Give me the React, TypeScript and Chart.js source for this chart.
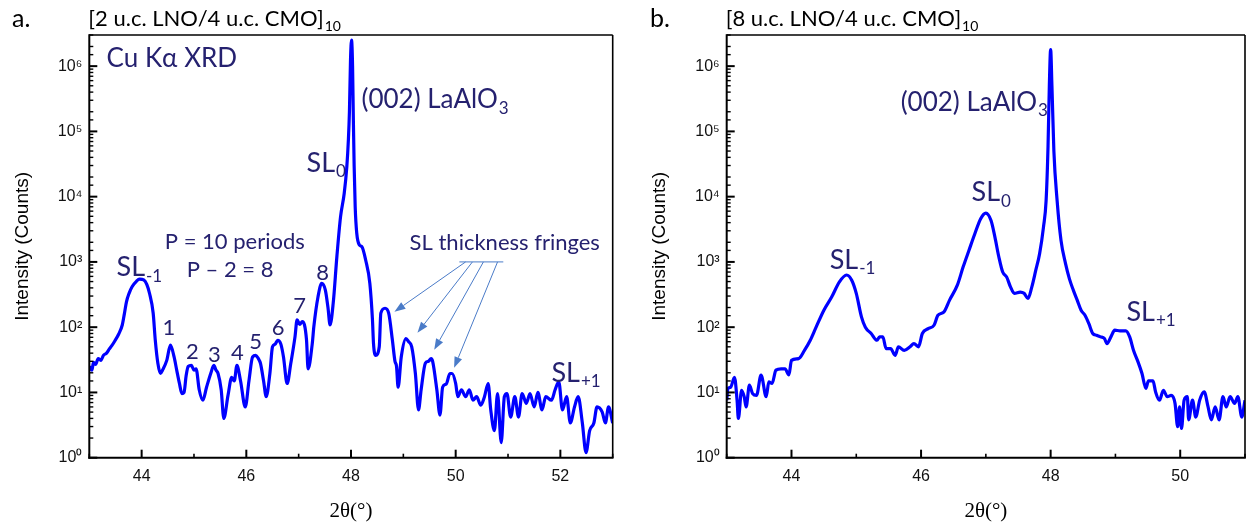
import React, { useEffect, useRef } from "react";
import { Chart, registerables } from "chart.js";

Chart.register(...registerables);

// ---------- Panel a: [2 u.c. LNO/4 u.c. CMO]10 ----------
const thetaA = [
  43.0, 43.05, 43.08, 43.12, 43.17, 43.22, 43.27, 43.33, 43.38, 43.43, 43.49, 43.56, 43.63, 43.67, 43.71,
  43.76, 43.82, 43.9, 43.96, 44.04, 44.1, 44.15, 44.22, 44.26, 44.31, 44.36, 44.4, 44.48, 44.55, 44.62,
  44.67, 44.72, 44.77, 44.81, 44.85, 44.89, 44.95, 45.0, 45.04, 45.1, 45.17, 45.24, 45.32, 45.38, 45.42,
  45.46, 45.52, 45.57, 45.65, 45.72, 45.77, 45.82, 45.89, 45.98, 46.05, 46.12, 46.18, 46.23, 46.27, 46.33,
  46.38, 46.45, 46.5, 46.55, 46.6, 46.66, 46.71, 46.78, 46.85, 46.93, 46.97, 47.02, 47.07, 47.15, 47.18,
  47.26, 47.29, 47.37, 47.44, 47.51, 47.56, 47.6, 47.66, 47.73, 47.8, 47.87, 47.92, 47.95, 47.97, 47.99,
  48.01, 48.03, 48.045, 48.06, 48.08, 48.11, 48.16, 48.21, 48.28, 48.36, 48.41, 48.43, 48.47, 48.54, 48.57,
  48.65, 48.72, 48.79, 48.84, 48.87, 48.9, 48.96, 49.05, 49.1, 49.16, 49.23, 49.29, 49.34, 49.42, 49.48,
  49.53, 49.56, 49.64, 49.7, 49.75, 49.82, 49.89, 49.93, 50.0, 50.04, 50.11, 50.19, 50.26, 50.33, 50.4,
  50.48, 50.55, 50.62, 50.67, 50.74, 50.8, 50.87, 50.93, 50.98, 51.05, 51.13, 51.2, 51.27, 51.35, 51.42,
  51.5, 51.57, 51.65, 51.72, 51.83, 51.9, 51.97, 52.04, 52.12, 52.19, 52.27, 52.34, 52.42, 52.49, 52.56,
  52.64, 52.7, 52.8, 52.86, 52.92, 53.0,
];
const countsA = [
  25, 22, 29, 27, 33, 31, 37, 40, 46, 52, 62, 78, 108, 160, 245,
  330, 420, 505, 545, 530, 450, 331, 165, 64, 28, 19.5, 22, 31, 53, 35,
  22, 14, 9.6, 10, 18, 25, 26, 22, 23, 11, 7.6, 12, 19.5, 26, 22,
  19.5, 11, 4, 9, 17, 15, 26, 15, 6, 15, 35, 37, 33, 28, 15,
  8.6, 19.5, 50, 55, 63, 55, 35, 13.7, 28, 71, 130, 110, 122, 64, 23,
  56, 102, 293, 470, 370, 200, 108, 233, 1200, 4900, 11200, 28600, 74000, 200000, 1200000,
  2500000, 1000000, 150000, 30000, 7000, 2750, 1820, 1700, 1070, 470, 130, 56, 37, 50, 164,
  195, 164, 64, 30, 25, 12, 35, 67, 60, 50, 19.5, 5.4, 11, 28, 30,
  33, 30, 11, 4.5, 12, 13.5, 19.5, 19.5, 13.7, 8.6, 11, 8.6, 11, 7.6, 8.6,
  6.4, 8.6, 13.7, 5.4, 2.6, 9.6, 1.7, 8.6, 9.6, 4.2, 8.6, 4.2, 9.6, 6.8, 9.6,
  6, 10, 5.4, 8.6, 7.6, 11, 14.5, 5.4, 8.6, 3.4, 6, 8.6, 3.4, 1.2, 2.6,
  3.4, 6, 5, 3.4, 6, 3.4,
];

// ---------- Panel b: [8 u.c. LNO/4 u.c. CMO]10 ----------
const thetaB = [
  43.0, 43.02, 43.06, 43.12, 43.16, 43.18, 43.23, 43.27, 43.3, 43.35, 43.4, 43.46, 43.53, 43.61, 43.65,
  43.7, 43.76, 43.84, 43.9, 43.96, 44.0, 44.11, 44.2, 44.29, 44.38, 44.5, 44.62, 44.74, 44.85, 44.93,
  45.0, 45.08, 45.14, 45.23, 45.32, 45.36, 45.41, 45.46, 45.53, 45.6, 45.65, 45.74, 45.83, 45.89, 45.96,
  46.02, 46.11, 46.2, 46.26, 46.35, 46.44, 46.56, 46.65, 46.74, 46.83, 46.92, 47.0, 47.08, 47.14, 47.2,
  47.26, 47.32, 47.38, 47.44, 47.53, 47.59, 47.65, 47.71, 47.77, 47.83, 47.89, 47.93, 47.96, 47.98, 48.0,
  48.02, 48.05, 48.1, 48.16, 48.23, 48.29, 48.35, 48.41, 48.47, 48.53, 48.59, 48.65, 48.71, 48.77, 48.83,
  48.87, 48.93, 48.99, 49.07, 49.16, 49.22, 49.28, 49.34, 49.41, 49.47, 49.51, 49.58, 49.62, 49.68, 49.74,
  49.8, 49.86, 49.92, 49.96, 49.99, 50.02, 50.06, 50.11, 50.13, 50.19, 50.24, 50.3, 50.37, 50.43, 50.48,
  50.54, 50.6, 50.66, 50.71, 50.77, 50.84, 50.89, 50.95, 51.0,
];
const countsB = [
  7.6, 11.5, 12, 17, 7.6, 4, 10.8, 8.6, 6, 12.9, 9.6, 9, 18.5, 8.6, 14.5,
  13.7, 22, 23, 23, 18.5, 31, 33, 44, 63, 100, 182, 290, 495, 630, 525,
  330, 144, 100, 80, 63, 71, 71, 47, 47, 37, 50, 44, 50, 56, 50,
  80, 95, 107, 152, 170, 260, 440, 840, 1510, 2700, 4600, 5600, 4300, 2400, 1200,
  700, 590, 415, 330, 345, 330, 275, 415, 740, 1340, 3450, 8700, 60000, 500000, 1800000,
  500000, 50000, 8700, 2140, 940, 550, 370, 260, 182, 152, 113, 80, 75, 71, 67,
  56, 71, 90, 88, 88, 71, 44, 31, 19.5, 11.5, 15, 15, 10.2, 7.6, 10.8,
  8.6, 9, 6.8, 3, 6, 2.8, 7.6, 8.6, 3.8, 7.6, 4.2, 7.6, 10.2, 6, 3.8,
  6, 3.8, 8.6, 6, 8.6, 6.8, 8.6, 4.2, 7.6,
];

// ---------- Axes ----------
const xTicksA = [44, 46, 48, 50, 52];
const xTicksB = [44, 46, 48, 50];
const superscripts = ["⁰", "¹", "²", "³", "⁴", "⁵", "⁶"];
const xTitle = "2θ(°)";
const yTitle = "Intensity (Counts)";

// ---------- Text labels (anchored in data coordinates) ----------
type Ann = { text: string; sub?: string; x: number; y: number; size: number; align?: "left" | "center" };

const annotationsA: Ann[] = [
  { text: "Cu Kα XRD", x: 43.33, y: 1.3e6, size: 26 },
  { text: "(002) LaAlO", sub: "3", x: 48.2, y: 3.06e5, size: 26 },
  { text: "SL", sub: "0", x: 47.15, y: 3.3e4, size: 27 },
  { text: "P = 10 periods", x: 45.78, y: 2040, size: 22, align: "center" },
  { text: "P – 2 = 8", x: 45.69, y: 754, size: 22, align: "center" },
  { text: "SL", sub: "-1", x: 43.52, y: 814, size: 27 },
  { text: "SL thickness fringes", x: 49.12, y: 1950, size: 22 },
  { text: "SL", sub: "+1", x: 51.83, y: 19.9, size: 27 },
];
const fringeLabels = ["1", "2", "3", "4", "5", "6", "7", "8"];
const fringeTheta = [44.52, 44.97, 45.39, 45.83, 46.18, 46.61, 47.02, 47.46];
const fringeCounts = [97, 42, 37.7, 40, 60, 97, 212, 680];

const arrowBarTheta = [50.07, 50.91];
const arrowBarCounts = 1000;
const arrowFromTheta = [50.19, 50.32, 50.53, 50.8];
const arrowToTheta = [48.83, 49.27, 49.59, 49.97];
const arrowToCounts = [172, 82, 45, 23.8];

const annotationsB: Ann[] = [
  { text: "(002) LaAlO", sub: "3", x: 45.685, y: 2.8e5, size: 26 },
  { text: "SL", sub: "0", x: 46.78, y: 1.15e4, size: 27 },
  { text: "SL", sub: "-1", x: 44.59, y: 1070, size: 27 },
  { text: "SL", sub: "+1", x: 49.17, y: 170, size: 27 },
];

const ANN_COLOR = "#25216F";
const ARROW_COLOR = "#4A7BC8";
const LINE_COLOR = "#0000FF";
const ANN_FONT = "Lato, 'Open Sans', sans-serif";

function drawLabel(ctx: CanvasRenderingContext2D, a: Ann, px: number, py: number, color: string) {
  ctx.fillStyle = color;
  ctx.textBaseline = "middle";
  ctx.textAlign = "left";
  ctx.font = `${a.size}px ${ANN_FONT}`;
  const w = ctx.measureText(a.text).width;
  const subSize = Math.round(a.size * 0.64);
  let sw = 0;
  if (a.sub) {
    ctx.font = `${subSize}px ${ANN_FONT}`;
    sw = ctx.measureText(a.sub).width + 1;
  }
  let x0 = px;
  if (a.align === "center") x0 = px - (w + sw) / 2;
  ctx.font = `${a.size}px ${ANN_FONT}`;
  ctx.fillText(a.text, x0, py);
  if (a.sub) {
    ctx.font = `${subSize}px ${ANN_FONT}`;
    ctx.fillText(a.sub, x0 + w + 1, py + a.size * 0.32);
  }
}

function isDecade(v: number) {
  const l = Math.log10(v);
  return Math.abs(l - Math.round(l)) < 1e-9;
}

type PanelSpec = {
  theta: number[];
  counts: number[];
  xMax: number;
  xTicks: number[];
  plotLeft: number;
  padRight: number;
  yTitlePad: number;
  letter: string;
  letterX: number;
  title: string;
  annotations: Ann[];
  fringes: boolean;
};

function buildChart(canvas: HTMLCanvasElement, p: PanelSpec) {
  const decor = {
    id: "decor",
    afterDraw(chart: any) {
      const { ctx, chartArea } = chart;
      const { left, right, top, bottom } = chartArea;
      const xs = chart.scales.x;
      const ys = chart.scales.y;
      ctx.save();
      ctx.strokeStyle = "#000";
      ctx.lineCap = "butt";
      const seg = (x1: number, y1: number, x2: number, y2: number) => {
        ctx.beginPath();
        ctx.moveTo(x1, y1);
        ctx.lineTo(x2, y2);
        ctx.stroke();
      };
      // inward ticks from the library's tick lists
      xs.ticks.forEach((t: any) => {
        const px = xs.getPixelForValue(t.value);
        const major = p.xTicks.includes(t.value);
        ctx.lineWidth = major ? 2 : 1.6;
        seg(px, bottom, px, bottom - (major ? 8 : 4));
      });
      ys.ticks.forEach((t: any) => {
        const py = ys.getPixelForValue(t.value);
        const major = isDecade(t.value);
        ctx.lineWidth = major ? 2 : 1.4;
        seg(left, py, left + (major ? 8 : 4), py);
      });
      // frame
      ctx.lineWidth = 1.6;
      seg(left, top, right, top);
      seg(right, top, right, bottom);
      ctx.lineWidth = 2;
      seg(left, top - 0.8, left, bottom + 1);
      seg(left - 1, bottom, right + 0.8, bottom);

      // panel letter and title
      ctx.fillStyle = "#000";
      ctx.textBaseline = "middle";
      ctx.textAlign = "left";
      ctx.font = `25px ${ANN_FONT}`;
      ctx.fillText(p.letter, p.letterX, 19);
      drawLabel(ctx, { text: p.title, sub: "10", x: 0, y: 0, size: 22 }, left - 1, 19, "#000");

      // annotations
      p.annotations.forEach((a) => {
        drawLabel(ctx, a, xs.getPixelForValue(a.x), ys.getPixelForValue(a.y), ANN_COLOR);
      });
      if (p.fringes) {
        fringeLabels.forEach((s, i) => {
          drawLabel(
            ctx,
            { text: s, x: 0, y: 0, size: 22, align: "center" },
            xs.getPixelForValue(fringeTheta[i]),
            ys.getPixelForValue(fringeCounts[i]),
            ANN_COLOR
          );
        });
        // arrows
        ctx.strokeStyle = ARROW_COLOR;
        ctx.fillStyle = ARROW_COLOR;
        ctx.lineWidth = 1;
        const by = ys.getPixelForValue(arrowBarCounts);
        seg(xs.getPixelForValue(arrowBarTheta[0]), by, xs.getPixelForValue(arrowBarTheta[1]), by);
        arrowFromTheta.forEach((ft, i) => {
          const x1 = xs.getPixelForValue(ft);
          const x2 = xs.getPixelForValue(arrowToTheta[i]);
          const y2 = ys.getPixelForValue(arrowToCounts[i]);
          const ang = Math.atan2(y2 - by, x2 - x1);
          const hl = 11;
          const hw = 4;
          const bx = x2 - hl * Math.cos(ang);
          const byy = y2 - hl * Math.sin(ang);
          seg(x1, by, bx, byy);
          ctx.beginPath();
          ctx.moveTo(x2, y2);
          ctx.lineTo(bx + hw * Math.sin(ang), byy - hw * Math.cos(ang));
          ctx.lineTo(bx - hw * Math.sin(ang), byy + hw * Math.cos(ang));
          ctx.closePath();
          ctx.fill();
        });
      }
      ctx.restore();
    },
  };

  return new Chart(canvas, {
    type: "line",
    data: {
      datasets: [
        {
          data: p.theta.map((t, i) => ({ x: t, y: p.counts[i] })),
          borderColor: LINE_COLOR,
          borderWidth: 3.2,
          pointRadius: 0,
          cubicInterpolationMode: "monotone",
          fill: false,
        },
      ],
    },
    options: {
      responsive: false,
      animation: false,
      layout: { padding: { left: 0, top: 35, right: p.padRight, bottom: 0 } },
      plugins: { legend: { display: false }, tooltip: { enabled: false } },
      scales: {
        x: {
          type: "linear",
          min: 43,
          max: p.xMax,
          afterFit: (s: any) => {
            s.height = 68.3;
          },
          grid: { display: false, drawTicks: false },
          border: { display: false },
          ticks: {
            stepSize: 1,
            autoSkip: false,
            maxRotation: 0,
            padding: 9,
            color: "#111",
            font: { family: "'Liberation Sans', Arial, sans-serif", size: 16 },
            callback: (v: any) => (p.xTicks.includes(Number(v)) ? String(v) : ""),
          },
          title: {
            display: true,
            text: xTitle,
            color: "#000",
            font: { family: "'Liberation Serif', 'Times New Roman', serif", size: 21 },
            padding: { top: 0, bottom: 1.7 },
          },
        },
        y: {
          type: "logarithmic",
          min: 1,
          max: 3e6,
          afterFit: (s: any) => {
            s.width = p.plotLeft;
          },
          grid: { display: false, drawTicks: false },
          border: { display: false },
          ticks: {
            autoSkip: false,
            padding: 7,
            color: "#111",
            font: { family: "'Liberation Sans', Arial, sans-serif", size: 16 },
            callback: (v: any) => {
              const n = Number(v);
              return isDecade(n) ? "10" + superscripts[Math.round(Math.log10(n))] : "";
            },
          },
          title: {
            display: true,
            text: yTitle,
            color: "#000",
            font: { family: "'Liberation Sans', Arial, sans-serif", size: 19 },
            padding: { top: p.yTitlePad, bottom: 0 },
          },
        },
      },
    },
    plugins: [decor],
  } as any);
}

export default function App() {
  const refA = useRef<HTMLCanvasElement>(null);
  const refB = useRef<HTMLCanvasElement>(null);

  useEffect(() => {
    const a = buildChart(refA.current!, {
      theta: thetaA,
      counts: countsA,
      xMax: 53,
      xTicks: xTicksA,
      plotLeft: 89.3,
      padRight: 627 - 612.7,
      yTitlePad: 11,
      letter: "a.",
      letterX: 12,
      title: "[2 u.c. LNO/4 u.c. CMO]",
      annotations: annotationsA,
      fringes: true,
    });
    const b = buildChart(refB.current!, {
      theta: thetaB,
      counts: countsB,
      xMax: 51,
      xTicks: xTicksB,
      plotLeft: 99.7,
      padRight: 627 - 625.3,
      yTitlePad: 21.5,
      letter: "b.",
      letterX: 23,
      title: "[8 u.c. LNO/4 u.c. CMO]",
      annotations: annotationsB,
      fringes: false,
    });
    return () => {
      a.destroy();
      b.destroy();
    };
  }, []);

  return (
    <div style={{ position: "absolute", left: 0, top: 0, width: 1254, height: 526, background: "#fff" }}>
      <canvas ref={refA} width={627} height={526} style={{ position: "absolute", left: 0, top: 0 }} />
      <canvas ref={refB} width={627} height={526} style={{ position: "absolute", left: 627, top: 0 }} />
    </div>
  );
}
